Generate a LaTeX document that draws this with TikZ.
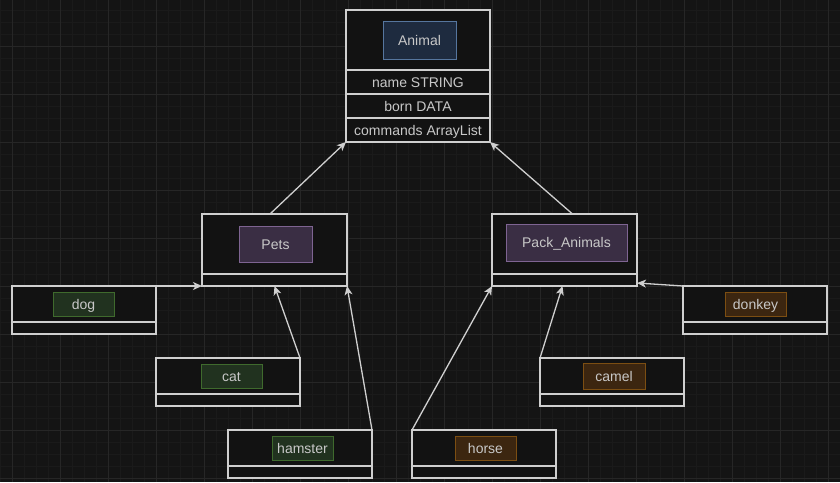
\documentclass[tikz,border=0pt]{standalone}
\usepackage{fontspec}
\setmainfont{Liberation Sans}
\usetikzlibrary{arrows.meta}
\definecolor{bg}{HTML}{141414}
\definecolor{boxbg}{HTML}{121212}
\definecolor{minorg}{HTML}{1A1A1A}
\definecolor{majorg}{HTML}{262626}
\definecolor{linec}{HTML}{CFCFCF}
\definecolor{txt}{HTML}{C8C8C8}
\definecolor{bluef}{HTML}{1E2B3F}
\definecolor{blued}{HTML}{56769E}
\definecolor{purf}{HTML}{3A2E44}
\definecolor{purd}{HTML}{7E6492}
\definecolor{grnf}{HTML}{21321F}
\definecolor{grnd}{HTML}{3F6A2D}
\definecolor{orgf}{HTML}{3C2610}
\definecolor{orgd}{HTML}{7C4E12}
\begin{document}
\begin{tikzpicture}[x=1pt,y=-1pt,
  every node/.style={font=\fontsize{14}{16}\selectfont, text=txt, text height=10pt, text depth=0pt},
  cls/.style={draw=linec, line width=1.3pt, fill=boxbg, inner sep=0pt, outer sep=0pt, anchor=north west, minimum width=144pt},
  rowbox/.style={draw=linec, line width=1.3pt, fill=boxbg, inner sep=0pt, outer sep=0pt, anchor=north west, minimum width=144pt, minimum height=24pt},
  lbl/.style={line width=1pt, inner sep=0pt, minimum height=24pt},
  blue/.style={lbl, fill=bluef, draw=blued},
  pur/.style={lbl, fill=purf, draw=purd},
  grn/.style={lbl, fill=grnf, draw=grnd, minimum width=61pt},
  org/.style={lbl, fill=orgf, draw=orgd, minimum width=61pt},
  divider/.style={draw=linec, line width=1.3pt},
  conn/.style={draw=linec, line width=1.3pt, -{Stealth[length=9pt,width=8pt,inset=2.5pt]}},
  minorgrid/.style={draw=minorg, line width=0.6pt},
  majorgrid/.style={draw=majorg, line width=0.9pt}]
\fill[bg] (0,0) rectangle (840,482);
\useasboundingbox (0,0) rectangle (840,482);
% grid
\foreach \i in {0,12,...,840} \draw[minorgrid] (\i,0) -- (\i,482);
\foreach \j in {10,22,...,482} \draw[minorgrid] (0,\j) -- (840,\j);
\foreach \i in {12,60,...,840} \draw[majorgrid] (\i,0) -- (\i,482);
\foreach \j in {46,94,...,482} \draw[majorgrid] (0,\j) -- (840,\j);

% Animal
\node[cls, minimum height=60pt] (animal) at (346,10) {};
\node[rowbox] (rname) at (346,70) {name STRING};
\node[rowbox] (rborn) at (346,94) {born DATA};
\node[rowbox] (rcmd) at (346,118) {commands ArrayList};
\node[blue, minimum width=73pt, minimum height=38pt] (animallbl) at (419.5,40) {Animal};

% Pets
\node[cls, minimum width=145pt, minimum height=72pt] (pets) at (202,214) {};
\draw[divider] ([yshift=12pt]pets.south west) -- ([yshift=12pt]pets.south east);
\node[pur, minimum width=73pt, minimum height=36pt] (petslbl) at (275.5,244) {Pets};

% Pack_Animals
\node[cls, minimum width=145pt, minimum height=72pt] (pack) at (492,214) {};
\draw[divider] ([yshift=12pt]pack.south west) -- ([yshift=12pt]pack.south east);
\node[pur, minimum width=121pt, minimum height=37pt] (packlbl) at (566.5,242.5) {Pack\_Animals};

% dog
\node[cls, minimum height=48pt] (dog) at (12,286) {};
\draw[divider] ([yshift=12pt]dog.south west) -- ([yshift=12pt]dog.south east);
\node[grn] (doglbl) at (83.5,304) {dog};

% cat
\node[cls, minimum height=48pt] (cat) at (156,358) {};
\draw[divider] ([yshift=12pt]cat.south west) -- ([yshift=12pt]cat.south east);
\node[grn] (catlbl) at (231.5,376) {cat};

% hamster
\node[cls, minimum height=48pt] (hamster) at (228,430) {};
\draw[divider] ([yshift=12pt]hamster.south west) -- ([yshift=12pt]hamster.south east);
\node[grn] (hamsterlbl) at (302.5,448) {hamster};

% donkey
\node[cls, minimum height=48pt] (donkey) at (683,286) {};
\draw[divider] ([yshift=12pt]donkey.south west) -- ([yshift=12pt]donkey.south east);
\node[org] (donkeylbl) at (755.5,304.5) {donkey};

% camel
\node[cls, minimum height=48pt] (camel) at (540,358) {};
\draw[divider] ([yshift=12pt]camel.south west) -- ([yshift=12pt]camel.south east);
\node[org, minimum width=62pt, minimum height=26pt] (camellbl) at (614,376) {camel};

% horse
\node[cls, minimum height=48pt] (horse) at (412,430) {};
\draw[divider] ([yshift=12pt]horse.south west) -- ([yshift=12pt]horse.south east);
\node[org] (horselbl) at (485.5,448) {horse};

% connectors
\draw[conn] ([xshift=-4.5pt]pets.north) -- (rcmd.south west);
\draw[conn] ([xshift=8pt]pack.north) -- (rcmd.south east);
\draw[conn] (dog.north east) -- (pets.south west);
\draw[conn] (cat.north east) -- (pets.south);
\draw[conn] (hamster.north east) -- (pets.south east);
\draw[conn] (horse.north west) -- (pack.south west);
\draw[conn] (camel.north west) -- ([xshift=-2pt]pack.south);
\draw[conn] (donkey.north west) -- ([yshift=3pt]pack.south east);
\end{tikzpicture}
\end{document}
